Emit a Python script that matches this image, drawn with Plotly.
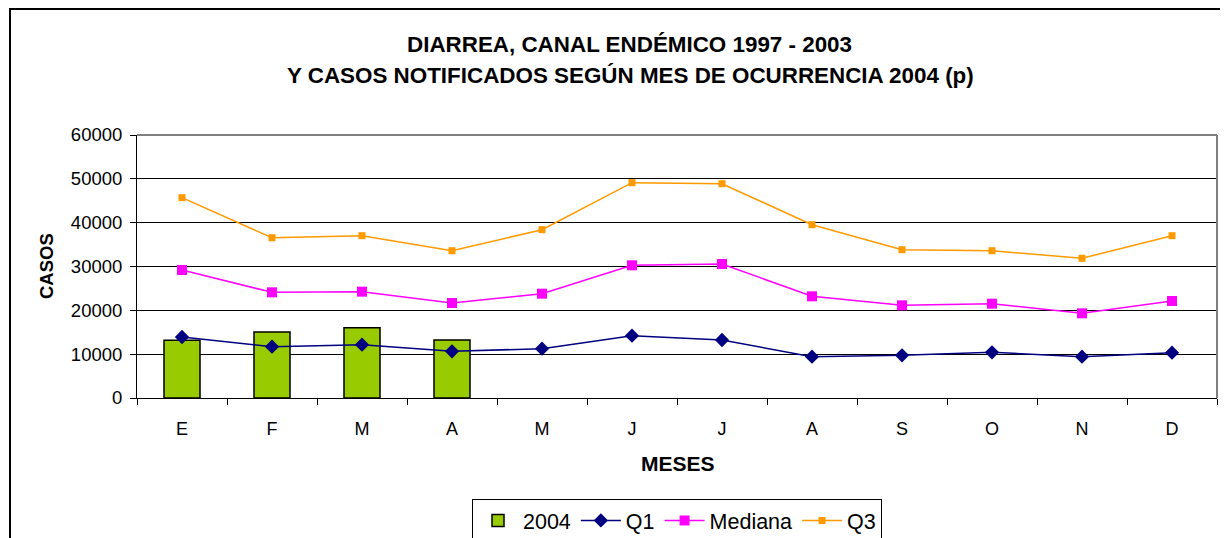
import plotly.graph_objects as go

months = ["E", "F", "M", "A", "M", "J", "J", "A", "S", "O", "N", "D"]
casos_2004 = [13160, 15060, 16040, 13230]
q1 = [13920, 11710, 12170, 10650, 11250, 14220, 13230, 9430, 9730, 10420, 9430, 10340]
mediana = [29200, 24110, 24260, 21670, 23800, 30270, 30570, 23200, 21140, 21520, 19320, 22130]
q3 = [45700, 36570, 37030, 33600, 38400, 49120, 48890, 39540, 33830, 33600, 31870, 37030]
y_ticks = [0, 10000, 20000, 30000, 40000, 50000, 60000]
y_tick_labels = ["0", "10000", "20000", "30000", "40000", "50000", "60000"]

x_idx = list(range(len(months)))
FONT = "Liberation Sans, Arial, sans-serif"

fig = go.Figure()
fig.add_trace(go.Bar(
    x=x_idx[:len(casos_2004)], y=casos_2004, name="2004",
    marker=dict(color="#99CC00", line=dict(color="#000000", width=1.5)),
    width=0.4,
))
fig.add_trace(go.Scatter(
    x=x_idx, y=q1, name="Q1", mode="lines+markers",
    line=dict(color="#000080", width=1.5),
    marker=dict(symbol="diamond", size=11, color="#000080"),
))
fig.add_trace(go.Scatter(
    x=x_idx, y=mediana, name="Mediana", mode="lines+markers",
    line=dict(color="#FF00FF", width=1.5),
    marker=dict(symbol="square", size=10, color="#FF00FF"),
))
fig.add_trace(go.Scatter(
    x=x_idx, y=q3, name="Q3", mode="lines+markers",
    line=dict(color="#FF9900", width=1.5),
    marker=dict(symbol="square", size=7, color="#FF9900"),
))

# page body has an 8px default margin: work in screen pixels and subtract it
OFF = 8
W, H = 1228 - OFF, 538 - OFF
# plot area in screen pixels: x 137..1217, y 135..398
L = 137 - OFF
T = 135 - OFF
R = W - (1217 - OFF)
B = H - (398 - OFF)
pw, ph = W - L - R, H - T - B

def px(x):
    return (x - OFF - L) / pw

def py(y):
    return (H - B - (y - OFF)) / ph

fig.update_layout(
    width=W, height=H,
    margin=dict(l=L, r=R, t=T, b=B, autoexpand=False),
    paper_bgcolor="white", plot_bgcolor="white",
    font=dict(family=FONT, color="#000000", size=18),
    showlegend=True,
    legend=dict(
        orientation="h", x=0.5, xanchor="center", y=py(499), yanchor="top",
        bordercolor="#000000", borderwidth=1, font=dict(size=21.5),
        traceorder="normal", itemwidth=40,
    ),
    xaxis=dict(
        range=[-0.5, 11.5], tickmode="array", tickvals=x_idx, ticktext=months,
        ticks="", showgrid=False, zeroline=False, automargin=False,
        showline=True, linecolor="#000000", linewidth=1,
        tickfont=dict(size=18), ticklabelstandoff=14,
        minor=dict(tick0=-0.5, dtick=1, ticks="outside", ticklen=6,
                   tickcolor="#000000", tickwidth=1, showgrid=False),
        fixedrange=True,
    ),
    yaxis=dict(
        range=[0, 60000], tickmode="array", tickvals=y_ticks, ticktext=y_tick_labels,
        ticks="outside", ticklen=6, tickcolor="#000000", automargin=False,
        showgrid=True, gridcolor="#000000", gridwidth=1,
        zeroline=False, showline=True, linecolor="#000000", linewidth=1,
        tickfont=dict(size=18.5), ticklabelstandoff=4,
        fixedrange=True,
    ),
    bargap=0.6,
)

# plot-area border (grey, top & right)
fig.add_shape(type="line", xref="paper", yref="paper", x0=0, x1=1, y0=1, y1=1,
              line=dict(color="#808080", width=2), layer="above")
fig.add_shape(type="line", xref="paper", yref="paper", x0=1, x1=1, y0=0, y1=1,
              line=dict(color="#808080", width=2), layer="above")
# chart-area border
fig.add_shape(type="rect", xref="paper", yref="paper",
              x0=px(10), x1=px(1250), y0=py(560), y1=py(9),
              line=dict(color="#000000", width=2), layer="above")

fig.add_annotation(text="<b>DIARREA, CANAL ENDÉMICO 1997 - 2003</b>",
                   xref="paper", yref="paper", x=px(629), y=py(45),
                   xanchor="center", yanchor="middle", showarrow=False,
                   font=dict(size=22.4))
fig.add_annotation(text="<b>Y CASOS NOTIFICADOS SEGÚN MES DE OCURRENCIA 2004 (p)</b>",
                   xref="paper", yref="paper", x=px(630), y=py(75),
                   xanchor="center", yanchor="middle", showarrow=False,
                   font=dict(size=22.4))
fig.add_annotation(text="<b>CASOS</b>", xref="paper", yref="paper",
                   x=px(46), y=py(266), textangle=-90,
                   xanchor="center", yanchor="middle", showarrow=False,
                   font=dict(size=18.5))
fig.add_annotation(text="<b>MESES</b>", xref="paper", yref="paper",
                   x=px(678), y=py(463),
                   xanchor="center", yanchor="middle", showarrow=False,
                   font=dict(size=21))

fig.write_html("out.html")
